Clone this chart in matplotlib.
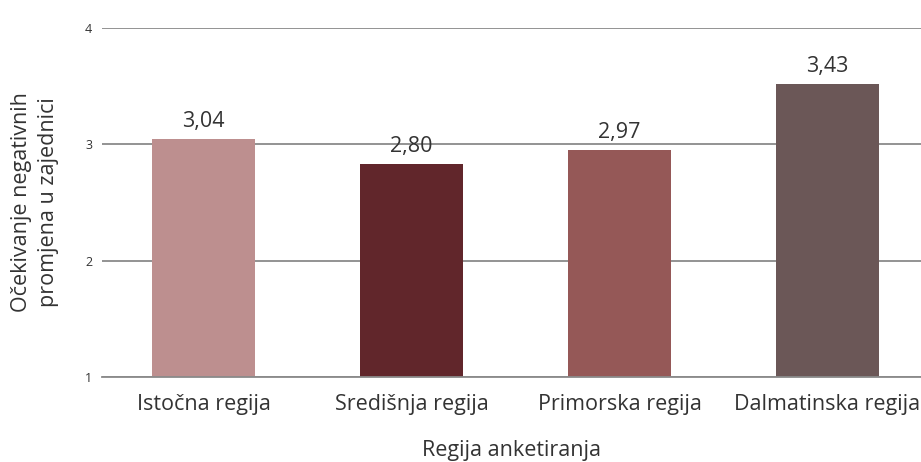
import matplotlib.pyplot as plt

plt.rcParams['font.family'] = ['Open Sans', 'DejaVu Sans']

regions = ["Istočna regija", "Središnja regija", "Primorska regija", "Dalmatinska regija"]
bar_heights = [3.05, 2.83, 2.95, 3.52]
value_labels = ["3,04", "2,80", "2,97", "3,43"]
colors = ["#bd8f8f", "#61262b", "#955857", "#6b5757"]
y_ticks = [1, 2, 3, 4]

fig = plt.figure(figsize=(9.21, 4.62), dpi=100)
ax = fig.add_axes([102 / 921, 85 / 462, 1 - 102 / 921, 349 / 462])

x = range(len(regions))
bars = ax.bar(x, [h - 1 for h in bar_heights], bottom=1, width=0.495, color=colors, zorder=1)

for b, lab in zip(bars, value_labels):
    ax.annotate(lab, (b.get_x() + b.get_width() / 2, b.get_y() + b.get_height()),
                xytext=(0, 5), textcoords="offset points", ha="center", va="bottom",
                fontsize=15.5, color="#333333")

ax.set_xlim(-0.488, 3.45)
ax.set_ylim(1, 4)
ax.set_yticks(y_ticks)
ax.set_xticks(list(x))
ax.set_xticklabels(regions, fontsize=15.5, color="#333333")
ax.tick_params(axis="x", length=0, pad=12)
ax.tick_params(axis="y", length=0, pad=7, labelsize=9, labelcolor="#333333")

ax.set_axisbelow(True)
ax.grid(axis="y", color="#8a8a8a", linewidth=1.3)
for s in ["top", "right", "left"]:
    ax.spines[s].set_visible(False)
ax.spines["bottom"].set_color("#8a8a8a")
ax.spines["bottom"].set_linewidth(1.3)

ax.set_xlabel("Regija anketiranja", fontsize=15.5, color="#333333", labelpad=18)
ax.set_ylabel("Očekivanje negativnih\npromjena u zajednici", fontsize=15.5,
              color="#333333", labelpad=19, linespacing=1.35)

fig.savefig("out.png", dpi=100)
